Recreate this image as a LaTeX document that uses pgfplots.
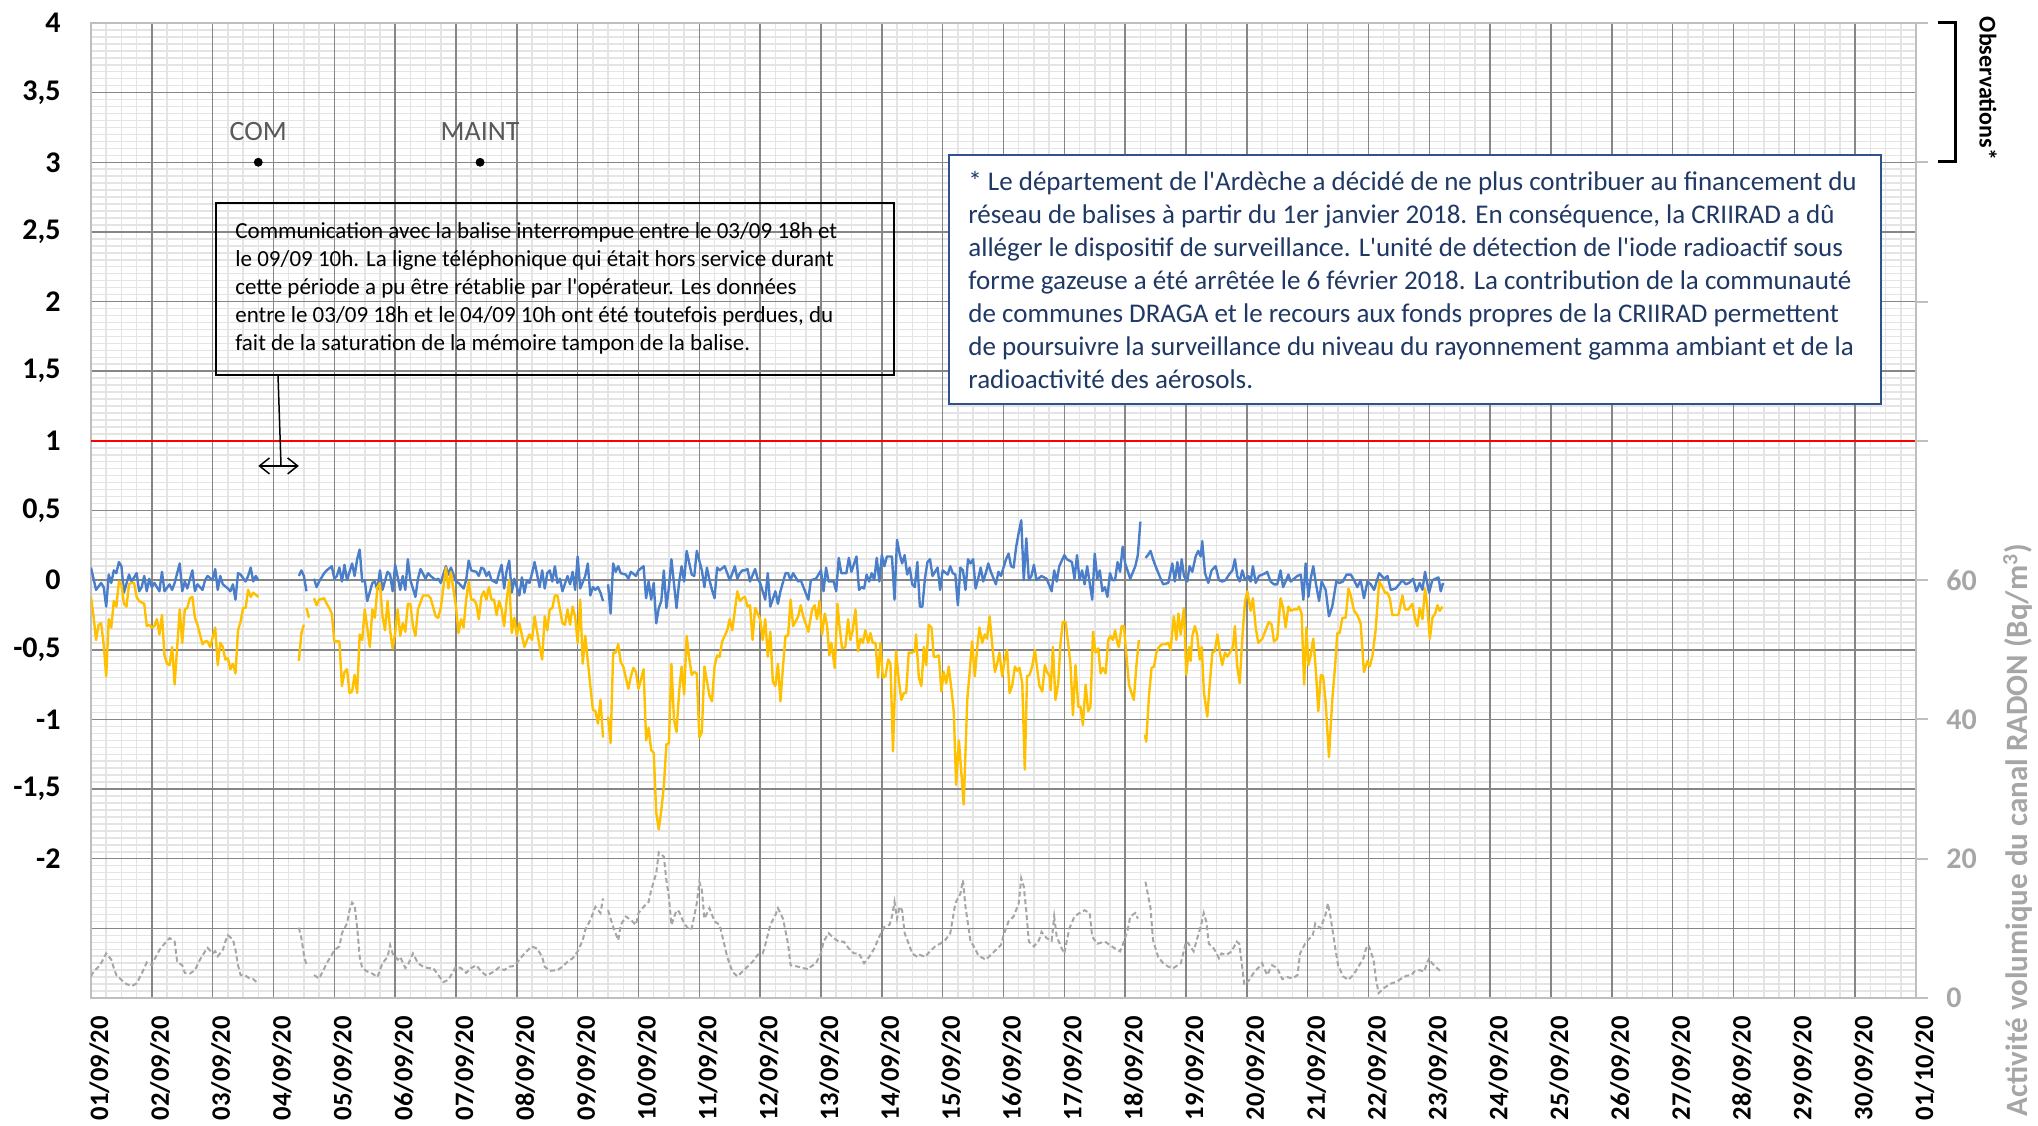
\documentclass[border=0pt]{standalone}
\usepackage{pgfplots}
\pgfplotsset{compat=1.18}
\usepackage{fontspec}
\setmainfont{Carlito}
\usetikzlibrary{arrows.meta}

\definecolor{blueS}{RGB}{74,126,200}
\definecolor{yellowS}{RGB}{255,192,0}
\definecolor{grayS}{RGB}{166,166,166}
\definecolor{majorgrid}{RGB}{134,134,134}
\definecolor{minorgrid}{RGB}{228,228,228}
\definecolor{frame}{RGB}{191,191,191}
\definecolor{navy}{RGB}{31,56,100}
\definecolor{boxblue}{RGB}{47,82,143}
\definecolor{comgray}{RGB}{89,89,89}

\pgfplotsset{
  chartbox/.style={
    scale only axis, width=912.5pt, height=487.5pt,
    xmin=0, xmax=720,
    unbounded coords=jump,
  },
}

% x in hours since 01/09/20 00h
\pgfplotstableread{
h v
0 0.09
2 -0.07
4 -0.02
5 -0.05
6 -0.19
7 0.04
8 -0.02
9 0.07
10 0.05
11 0.13
12 0.10
13 -0.09
15 0.04
16 -0.01
18 0.05
19 -0.08
20 -0.05
21 0.03
22 -0.08
23 0.01
24 -0.05
25 -0.02
27 -0.08
28 0.06
29 -0.08
31 -0.03
32 -0.07
33 -0.02
35 0.12
36 -0.08
37 -0.01
38 -0.06
40 0.07
41 -0.08
42 -0.03
44 -0.07
45 0.00
46 0.03
48 0.00
49 0.08
50 -0.07
51 0.03
52 -0.03
54 -0.06
55 -0.08
56 -0.03
57 -0.14
58 0.05
59 0.04
61 -0.01
62 0.03
63 0.09
64 -0.01
65 0.03
66 0.00
67 nan
82 0.03
83 0.07
84 0.03
85 -0.08
86 nan
88 0.01
89 -0.05
90 -0.01
92 0.05
93 0.07
95 0.10
96 0.01
97 0.03
98 0.09
99 -0.01
100 0.11
101 0.00
103 0.12
104 0.03
105 0.15
106 0.22
107 -0.01
108 0.00
109 -0.15
111 -0.02
112 -0.01
113 -0.07
114 0.07
115 -0.07
117 0.06
118 0.04
119 -0.08
120 0.11
122 -0.07
123 0.03
124 -0.07
125 0.15
126 0.00
128 -0.12
129 0.01
130 0.08
132 0.01
133 0.05
134 0.03
136 0.00
137 0.01
138 -0.02
140 0.10
141 0.04
142 0.09
144 -0.01
145 -0.02
147 -0.06
148 0.00
149 0.14
150 0.07
152 0.06
153 0.03
154 0.09
155 0.08
156 0.03
157 0.06
158 0.00
160 -0.02
161 0.05
162 0.11
163 -0.06
164 0.07
165 0.14
166 -0.09
167 0.01
168 -0.05
169 -0.11
170 0.02
171 -0.09
172 0.00
173 -0.02
174 0.05
175 0.13
177 -0.05
178 0.07
179 -0.06
180 0.05
181 0.07
182 -0.01
183 0.10
184 -0.02
185 0.01
186 -0.08
188 0.03
189 -0.03
190 0.06
191 -0.07
192 0.17
193 -0.06
195 0.03
196 0.12
197 -0.11
198 -0.05
199 -0.07
200 -0.05
201 -0.09
202 -0.15
203 nan
204 -0.03
205 -0.24
206 0.12
207 0.06
208 0.10
209 0.05
211 0.04
212 0.01
213 0.06
215 0.03
216 0.07
218 0.10
219 -0.13
220 -0.01
221 -0.14
222 -0.02
223 -0.31
224 -0.20
225 -0.15
226 0.07
227 -0.20
228 -0.05
229 0.15
231 -0.20
232 -0.02
233 0.10
234 -0.01
235 0.21
237 0.04
238 0.03
239 0.21
241 0.07
242 -0.05
243 0.09
244 0.00
245 -0.07
246 -0.13
247 0.09
248 0.07
250 0.10
251 0.05
252 0.00
254 0.10
255 0.01
256 0.05
257 0.07
258 0.07
259 0.08
260 -0.01
262 0.08
263 0.01
264 -0.02
266 -0.14
267 0.05
268 -0.19
270 -0.08
271 -0.17
272 -0.08
274 0.05
275 0.05
276 0.00
277 0.05
279 -0.01
280 0.00
283 -0.14
284 0.00
286 0.01
288 0.07
289 -0.08
290 0.09
291 -0.01
293 -0.01
294 -0.08
295 0.16
296 0.05
298 0.05
299 0.16
300 0.06
302 0.17
303 -0.07
304 -0.05
305 -0.06
306 0.04
307 -0.01
308 0.05
309 0.00
310 0.16
311 -0.01
312 0.18
313 0.10
314 0.17
316 0.17
317 -0.14
318 0.29
319 0.19
320 0.12
321 0.18
322 0.04
323 0.09
324 -0.03
325 -0.05
326 0.13
327 -0.19
328 -0.19
329 0.01
330 0.13
331 0.15
332 0.03
334 0.09
335 -0.07
336 0.07
338 0.04
339 0.10
340 0.05
341 0.04
342 -0.18
343 0.09
344 0.07
345 -0.07
346 0.15
347 0.12
348 0.15
349 -0.06
350 0.01
351 0.09
352 -0.01
353 0.05
354 0.12
355 0.06
357 -0.03
358 0.06
359 0.03
361 0.15
362 0.19
363 0.10
364 0.09
365 0.24
366 0.34
367 0.43
368 0.00
369 0.30
370 0.00
371 0.03
372 0.11
373 0.00
375 0.03
377 0.01
379 -0.08
380 0.07
381 -0.01
382 0.10
384 0.18
385 0.15
387 0.13
388 0.01
389 0.18
390 0.00
391 0.07
392 -0.03
393 0.10
395 -0.14
396 0.19
397 0.01
398 0.07
399 -0.08
400 -0.05
401 -0.12
402 0.05
403 0.00
404 0.00
405 0.13
406 0.06
407 0.24
408 0.12
410 0.01
412 0.10
413 0.18
414 0.42
415 nan
416 0.16
417 0.18
418 0.21
419 0.15
420 0.10
422 0.01
423 -0.03
425 -0.02
426.6 0.12
427.6 -0.01
428.6 0.13
429.5 0.01
430.3 0.15
431.2 0.03
432.5 -0.01
433.4 0.10
434.5 0.06
435.8 0.17
436.8 0.21
437.8 0.17
438.4 0.28
439.5 0.05
440.8 -0.02
442.1 0.07
443.7 0.10
445 0.00
446.3 -0.01
447.6 0.00
449 0.04
450.3 0.07
451.3 0.15
452.2 0.03
453.2 -0.01
454.2 0.07
455.3 0.00
456.6 0.03
457.5 -0.01
458.4 0.10
459.5 -0.02
460.8 0.03
462.1 0.04
463.4 0.05
464 0.06
465.4 -0.01
466.7 -0.03
468 -0.03
469.3 0.07
470.3 -0.05
471.3 -0.01
472.4 0.04
473.3 -0.01
474.6 0.01
475.9 0.03
477.3 0.04
478.3 -0.14
479.2 0.12
480.3 -0.12
481.2 0.01
482.2 0.10
483.2 -0.02
484.5 -0.15
485.5 -0.01
487.1 -0.07
488.4 -0.26
489.7 -0.19
491.3 -0.01
492.6 -0.02
493.9 -0.01
495.3 0.04
497 0.04
498.3 0.00
499.6 -0.05
500.9 0.00
502.2 -0.13
503.6 -0.01
504.9 -0.03
506.2 -0.07
508.2 0.05
510.2 0.01
511.5 0.03
512.8 -0.07
514.7 -0.06
516.1 -0.03
517.4 0.00
518.7 -0.03
520 -0.02
521.6 0.01
522.9 -0.08
524.2 -0.02
525.3 -0.07
526.3 0.06
527.9 -0.09
529.2 0.00
530.5 0.01
531.6 0.02
532.5 -0.08
533.4 -0.02
}\blueTab

\pgfplotstableread{
h v
0 -0.12
1 -0.26
2 -0.43
3 -0.32
4 -0.31
5 -0.46
6 -0.69
7 -0.28
8 -0.34
9 -0.15
10 -0.19
11 -0.01
12 -0.03
13 -0.17
14 -0.19
15 -0.03
16 -0.02
17 -0.02
18 -0.12
19 -0.15
21 -0.17
22 -0.33
23 -0.32
24 -0.34
25 -0.33
26 -0.28
27 -0.39
28 -0.25
29 -0.54
30 -0.60
31 -0.61
32 -0.48
33 -0.75
35 -0.21
36 -0.45
37 -0.21
38 -0.20
39 -0.13
40 -0.12
41 -0.27
42 -0.32
44 -0.46
45 -0.44
46 -0.44
47 -0.48
49 -0.34
50 -0.61
51 -0.45
52 -0.48
53 -0.57
54 -0.56
55 -0.64
56 -0.60
57 -0.67
58 -0.36
59 -0.30
60 -0.20
61 -0.20
62 -0.07
63 -0.12
64 -0.09
66 -0.12
67 nan
82 -0.58
83 -0.38
84 -0.32
84.5 nan
85 -0.20
86 -0.27
87 nan
88 -0.13
89 -0.18
90 -0.14
92 -0.13
93 -0.17
94 -0.20
95 -0.24
96 -0.44
98 -0.44
99 -0.76
100 -0.66
101 -0.64
102 -0.81
103 -0.80
104 -0.68
105 -0.81
106 -0.39
107 -0.43
108 -0.21
110 -0.48
111 -0.21
112 -0.27
113 -0.05
114 -0.02
115 -0.26
116 -0.36
117 -0.15
118 -0.36
119 -0.49
120 -0.38
121 -0.21
122 -0.40
123 -0.31
124 -0.37
125 -0.17
126 -0.17
127 -0.33
128 -0.40
129 -0.21
131 -0.11
132 -0.11
133 -0.11
134 -0.13
136 -0.26
137 -0.27
138 -0.20
140 0.09
141 -0.06
142 0.06
143 -0.07
144 -0.19
145 -0.38
146 -0.28
147 -0.34
148 -0.14
149 -0.01
150 -0.14
151 -0.14
152 -0.17
153 -0.28
154 -0.12
155 -0.08
156 -0.14
157 -0.05
158 -0.14
159 -0.14
160 -0.25
161 -0.15
162 -0.21
163 -0.33
164 -0.14
165 0.00
166 -0.38
167 -0.27
168 -0.40
169 -0.31
171 -0.48
172 -0.43
173 -0.39
174 -0.43
175 -0.26
177 -0.48
178 -0.57
179 -0.26
180 -0.36
181 -0.21
182 -0.20
183 -0.11
184 -0.11
186 -0.31
187 -0.32
188 -0.21
189 -0.32
190 -0.19
191 -0.26
192 -0.45
193 -0.14
194 -0.60
195 -0.40
197 -0.76
198 -0.93
199 -0.94
200 -1.03
201 -0.86
202 -1.13
203 nan
204 -0.98
205 -1.17
206 -0.52
207 -0.52
208 -0.46
209 -0.59
210 -0.62
212 -0.78
213 -0.69
214 -0.63
215 -0.66
216 -0.78
218 -0.64
219 -1.15
220 -1.06
221 -1.22
222 -1.24
223 -1.67
224 -1.79
225 -1.65
226 -1.48
227 -1.18
228 -1.17
229 -0.60
230 -1.00
231 -1.09
232 -0.81
233 -0.62
234 -0.82
235 -0.40
236 -0.56
237 -0.68
238 -0.66
239 -0.67
240 -1.13
241 -1.09
242 -0.62
244 -0.83
245 -0.87
246 -0.62
247 -0.54
248 -0.55
249 -0.44
250 -0.40
251 -0.36
252 -0.28
253 -0.36
255 -0.08
256 -0.15
257 -0.13
258 -0.12
259 -0.19
260 -0.18
261 -0.43
262 -0.20
264 -0.28
265 -0.43
266 -0.28
267 -0.55
268 -0.37
269 -0.73
270 -0.76
271 -0.60
272 -0.87
273 -0.62
274 -0.40
275 -0.40
276 -0.14
277 -0.33
279 -0.26
280 -0.18
281 -0.26
283 -0.37
284.5 -0.21
285.5 -0.18
286.4 -0.28
287.4 -0.15
288.4 -0.39
289.5 -0.24
290.4 -0.33
291.3 -0.54
292.1 -0.45
293.4 -0.63
294.5 -0.17
295.3 -0.33
296.3 -0.49
297.6 -0.48
298.7 -0.28
299.6 -0.43
300.5 -0.36
301.6 -0.21
302.6 -0.51
303.6 -0.42
304.5 -0.45
305.5 -0.36
306.6 -0.45
307.5 -0.38
308.4 -0.45
309.5 -0.45
310.5 -0.70
311.4 -0.45
312.4 -0.70
313.4 -0.69
314.5 -0.57
315.4 -0.60
316.4 -1.23
317.6 -0.51
318.7 -0.72
319.7 -0.86
320.7 -0.81
321.6 -0.81
322.6 -0.52
324 -0.52
325 -0.51
325.5 -0.39
326.6 -0.70
327.6 -0.76
328.6 -0.48
329.5 -0.61
330.5 -0.32
331.6 -0.34
332.5 -0.55
333.4 -0.55
334.5 -0.54
335.5 -0.80
336.4 -0.66
337.4 -0.74
338.4 -0.62
339.5 -0.79
340.4 -0.95
341.3 -1.47
342.4 -1.15
343.4 -1.39
344.3 -1.61
345.7 -0.86
346.6 -0.67
347.6 -0.44
348.7 -0.69
349.6 -0.49
350.5 -0.34
351.6 -0.45
352.6 -0.39
353.5 -0.42
354.5 -0.26
355.5 -0.45
356.6 -0.66
357.5 -0.60
358.4 -0.52
359.5 -0.69
360.5 -0.57
361.4 -0.50
362.4 -0.81
363.4 -0.76
364.5 -0.62
365.4 -0.65
366.3 -0.63
367.4 -0.74
368.4 -1.36
369.3 -0.69
370.3 -0.68
371.3 -0.62
372.4 -0.50
373.3 -0.64
374.2 -0.76
375.3 -0.80
376.3 -0.61
377.2 -0.66
378.2 -0.69
378.6 -0.79
379.5 -0.48
380.5 -0.86
381.6 -0.74
382.5 -0.45
383.4 -0.30
384.5 -0.30
385.8 -0.50
386.4 -0.60
387.4 -0.97
388.4 -0.61
389.5 -0.91
390.4 -0.91
391.3 -1.04
392.4 -0.75
393.4 -0.94
394.3 -0.91
395.3 -0.37
396.3 -0.52
397.4 -0.49
398.3 -0.67
399.2 -0.63
400.3 -0.67
401.3 -0.43
402.2 -0.40
403.2 -0.43
404.0 -0.36
404.9 -0.45
405.5 -0.48
406.6 -0.33
407.5 -0.33
408.4 -0.52
409.5 -0.75
410.5 -0.81
411.4 -0.86
412.4 -0.62
413.4 -0.43
414.5 nan
415.8 -1.11
416.3 -1.16
417.4 -0.83
418.4 -0.63
419.4 -0.62
420.3 -0.52
421.3 -0.48
422.6 -0.46
423.9 -0.46
425 -0.45
425.9 -0.50
427.2 -0.26
428.2 -0.43
429 -0.24
429.9 -0.39
431.2 -0.20
432.1 -0.68
433.2 -0.48
433.8 -0.58
434.5 -0.40
435.5 -0.33
436.4 -0.39
437.4 -0.57
438.2 -0.48
439.1 -0.81
440.4 -0.98
441.4 -0.74
442.4 -0.52
443.4 -0.51
444.4 -0.39
445.3 -0.51
446.3 -0.61
447.4 -0.52
448.3 -0.55
449.6 -0.51
450.5 -0.48
451.3 -0.33
452.2 -0.62
453.2 -0.74
454.2 -0.42
455.3 -0.15
456.2 -0.08
457.5 -0.22
458.4 -0.13
459.5 -0.34
460.5 -0.45
462.1 -0.42
463.4 -0.36
464.7 -0.30
465.8 -0.32
466.7 -0.44
468 -0.42
469.3 -0.13
470.3 -0.20
471.3 -0.34
472.4 -0.19
473.3 -0.22
474.6 -0.21
475.9 -0.21
476.6 -0.19
477.6 -0.24
478.6 -0.75
479.5 -0.34
480.3 -0.61
481.2 -0.54
482.2 -0.42
483.2 -0.64
484.2 -0.94
485.2 -0.68
486.1 -0.69
487.1 -0.88
488.4 -1.27
489.7 -0.86
490.8 -0.62
491.7 -0.38
492.6 -0.38
493.7 -0.27
495 -0.27
496.1 -0.06
497 -0.11
498.3 -0.22
499.6 -0.25
500.9 -0.31
502.2 -0.66
503.6 -0.58
504.5 -0.62
505.5 -0.55
506.8 -0.36
508.2 -0.01
509.5 -0.05
510.5 -0.09
511.4 -0.09
512.4 -0.13
513.4 -0.25
514.7 -0.25
515.8 -0.25
517.4 -0.11
518.4 -0.21
519.7 -0.21
521.3 -0.17
522.4 -0.28
523.3 -0.33
524.2 -0.20
525.3 -0.28
526.3 -0.06
527.2 -0.19
528.2 -0.42
529.2 -0.27
530.3 -0.24
531.2 -0.18
532.1 -0.22
533.2 -0.19
}\yellowTab

\pgfplotstableread{
h v
0 3.1
1 3.8
3 4.5
4 5.0
6 6.4
8 5.5
9 4.3
10 3.3
12 2.6
14 2.0
16 1.7
18 2.1
20 3.5
22 5.1
24 4.7
25 5.5
27 6.9
29 7.8
31 8.6
33 8.1
34 5.2
36 4.7
37 3.6
39 3.5
41 4.0
43 5.5
45 6.7
46 7.2
48 6.4
49 6.7
50 6.0
52 6.9
53 8.1
54 9.0
56 8.4
57 6.9
58 4.7
59 3.3
61 3.2
63 2.7
64 2.7
66 2.1
67 nan
82 10.1
83 8.6
84 6.2
85 4.7
86 nan
88 3.3
90 2.8
91 3.5
93 5.0
95 6.2
96 6.9
98 7.4
99 9.3
101 10.7
102 12.6
103 13.7
104 13.3
105 10.2
106 5.9
107 4.3
109 3.8
111 3.5
113 3.0
115 5.0
117 5.9
118 7.6
119 6.4
121 5.5
122 5.9
124 4.3
125 4.7
127 6.4
129 5.0
131 4.5
133 4.3
135 4.3
137 3.3
139 2.3
141 2.6
144 4.5
146 4.3
148 3.6
150 4.3
152 4.7
154 3.8
156 3.2
159 3.8
161 4.4
163 4.0
165 4.5
167 4.6
169 5.5
171 6.4
173 7.1
174 7.4
176 7.1
178 5.9
179 4.5
181 3.9
184 4.0
186 4.5
188 5.2
190 5.7
192 6.7
194 8.3
195 9.8
197 11.2
199 13.1
201 12.2
202 14.3
203 nan
204 12.6
206 10.2
208 8.3
209 10.5
211 11.7
213 11.2
215 10.5
216 12.2
218 13.1
220 13.8
221 15.5
223 17.9
224 20.9
226 20.3
227 16.9
228 14.5
229 10.5
231 12.6
232 12.4
234 10.7
236 9.8
237 10.0
239 13.6
240 16.7
241 15.5
242 11.4
244 12.9
246 11.0
248 10.5
249 9.0
251 5.9
253 3.8
255 3.1
257 3.8
259 4.5
261 5.2
263 6.2
265 6.4
266 7.6
268 10.5
270 11.9
271 12.9
273 11.4
275 7.8
276 4.7
279 4.5
281 4.3
283 4.1
284 4.5
286 5.0
288 6.4
289 8.1
291 9.3
293 8.6
295 8.1
297 8.1
299 7.1
301 6.4
303 6.4
305 5.0
307 5.9
309 7.1
311 8.8
313 10.2
315 10.5
316 11.7
317 13.8
318 11.4
319 13.1
320 12.6
321 9.3
323 7.4
324 6.4
326 5.9
327 6.2
329 5.9
331 6.7
333 7.4
335 7.8
337 8.3
339 9.3
341 13.6
343 15.0
344 16.9
345 13.1
347 8.1
348 7.6
350 6.2
351 5.9
353 5.5
355 6.2
357 6.9
359 7.6
360 9.0
362 11.0
364 11.7
366 13.6
367 17.2
368 16.0
369 12.4
370 8.1
372 7.4
374 8.3
375 9.5
377 8.6
379 8.2
380 11.7
381 8.8
383 7.1
384 6.4
385 8.3
386 10.0
388 11.7
390 12.2
392 12.6
394 12.2
395 8.8
397 7.8
400 8.1
402 7.6
404 7.1
406 6.7
407 7.6
409 9.8
410 11.7
412 12.2
413 11.4
414.5 nan
416 16.7
418 12.9
419 8.3
421 5.9
423 5.0
425 4.5
427 4.3
430 5.0
432 8.1
433 7.8
435 6.7
437 9.3
438 10.5
439 12.2
440 11.0
441 7.8
443 7.1
445 5.7
446 6.4
448 6.2
450 6.7
452 8.1
453 7.8
454 5.0
455 1.9
457 2.6
459 3.8
461 4.5
462 5.0
464 3.3
466 4.7
468 4.3
470 2.7
472 3.0
474 2.8
476 3.3
477 6.4
479 7.8
480 8.3
482 9.0
483 10.7
485 10.0
487 11.9
488 13.6
489 11.7
491 6.9
492 4.7
494 3.1
496 2.6
498 3.3
500 4.5
502 5.7
503 7.1
504 7.6
506 5.5
507 2.6
508 0.7
510 1.4
512 1.9
513 2.1
515 2.3
517 2.8
519 3.2
521 3.3
522 3.8
524 4.0
526 3.8
527 5.0
528 5.7
529 5.0
531 4.3
532 4.0
533 4.3
}\radonTab

\begin{document}
\begin{tikzpicture}
% light minor grid, drawn first so that the darker major lines sit on top of it
\begin{axis}[
  chartbox, ymin=-3, ymax=4,
  xtick={0,24,...,720}, minor x tick num=3,
  ytick={-3,-2.5,...,4}, minor y tick num=9,
  xticklabels={}, yticklabels={},
  grid=minor,
  minor grid style={draw=minorgrid, line width=0.75pt},
  major tick length=0pt, minor tick length=0pt,
  axis line style={draw=none},
]
\end{axis}

\begin{axis}[
  chartbox, ymin=-3, ymax=4,
  xtick={0,24,...,720},
  xticklabels={01/09/20,02/09/20,03/09/20,04/09/20,05/09/20,06/09/20,07/09/20,08/09/20,09/09/20,10/09/20,11/09/20,12/09/20,13/09/20,14/09/20,15/09/20,16/09/20,17/09/20,18/09/20,19/09/20,20/09/20,21/09/20,22/09/20,23/09/20,24/09/20,25/09/20,26/09/20,27/09/20,28/09/20,29/09/20,30/09/20,01/10/20},
  ytick={-3,-2.5,...,4},
  yticklabel={\ifdim\tick pt<-2.25pt\relax\else\pgfmathprintnumber{\tick}\fi},
  /pgf/number format/.cd, use comma, fixed, precision=1, assume math mode=true,
  /pgfplots/.cd,
  grid=major,
  major grid style={draw=majorgrid, line width=0.75pt},
  major tick length=0pt,
  axis line style={draw=frame, line width=1pt},
  xticklabel shift=9pt,
  x tick label style={rotate=90, anchor=east, inner sep=0pt, yshift=-4.2pt,
    font=\bfseries\fontsize{13.3}{16}\selectfont},
  y tick label style={anchor=east, inner sep=0pt, xshift=-15pt,
    font=\bfseries\fontsize{15}{18}\selectfont},
]
\addplot[red, line width=1.25pt] coordinates {(0,1) (720,1)};
\addplot[blueS, line width=1.2pt, line join=round] table[x=h, y=v] {\blueTab};
\addplot[yellowS, line width=1.2pt, line join=round] table[x=h, y=v] {\yellowTab};
\addplot[only marks, mark=*, mark size=2pt, black] coordinates {(66,3) (153.5,3)};
\node[anchor=base, yshift=11pt, text=comgray, font=\fontsize{14}{17}\selectfont] at (axis cs:66,3) {COM};
\node[anchor=base, yshift=11pt, text=comgray, font=\fontsize{14}{17}\selectfont] at (axis cs:153.5,3) {MAINT};
\draw[line width=0.75pt, {Straight Barb[length=5pt,width=8pt]}-{Straight Barb[length=5pt,width=8pt]}]
  (axis cs:66,0.82) -- (axis cs:82,0.82);
\end{axis}

\begin{axis}[
  chartbox, ymin=0, ymax=140,
  axis y line*=right, axis x line=none,
  ytick={0,20,...,140},
  yticklabels={0,20,40,60,{},{},{},{}},
  tick align=outside, major tick length=6pt,
  tick style={draw=frame, line width=1pt},
  axis line style={draw=frame, line width=1pt},
  y tick label style={anchor=west, inner sep=0pt, xshift=9pt, text=grayS,
    font=\bfseries\fontsize{15}{18}\selectfont},
  /pgf/number format/assume math mode=true,
]
\addplot[grayS, line width=1pt, dash pattern=on 2.5pt off 1.5pt] table[x=h, y=v] {\radonTab};
\end{axis}

% right-hand axis title
\node[rotate=90, text=grayS, font=\bfseries\fontsize{15.5}{18}\selectfont] at (963.5pt,84pt)
  {Activité volumique du canal RADON (Bq/m\textsuperscript{3})};

% observations bracket
\draw[line width=1.5pt] (923.5pt,487.5pt) -- (932pt,487.5pt) -- (932pt,418pt) -- (923.5pt,418pt);
\node[rotate=-90, font=\bfseries\fontsize{12}{14}\selectfont] at (948.5pt,454.75pt) {Observations*};

% communication note
\draw[black, line width=0.75pt] (62.5pt,311.5pt) rectangle (401.5pt,397.5pt);
\node[anchor=north west, inner sep=0pt, align=left, font=\fontsize{11.5}{14}\selectfont] at (72pt,387.7pt)
  {Communication avec la balise interrompue entre le 03/09 18h et\\
   le 09/09 10h. La ligne téléphonique qui était hors service durant\\
   cette période a pu être rétablie par l\textquotesingle opérateur. Les données\\
   entre le 03/09 18h et le 04/09 10h ont été toutefois perdues, du\\
   fait de la saturation de la mémoire tampon de la balise.};
\draw[black, line width=0.75pt] (93.5pt,311.5pt) -- (95pt,266.5pt);

% footnote box
\draw[boxblue, fill=white, line width=1pt] (429pt,297pt) rectangle (895pt,421.5pt);
\node[anchor=north west, inner sep=0pt, align=left, text=navy, font=\fontsize{13.5}{16.5}\selectfont] at (438.5pt,413.4pt)
  {* Le département de l\textquotesingle Ardèche a décidé de ne plus contribuer au financement du\\
   réseau de balises à partir du 1er janvier 2018. En conséquence, la CRIIRAD a dû\\
   alléger le dispositif de surveillance. L\textquotesingle unité de détection de l\textquotesingle iode radioactif sous\\
   forme gazeuse a été arrêtée le 6 février 2018. La contribution de la communauté\\
   de communes DRAGA et le recours aux fonds propres de la CRIIRAD permettent\\
   de poursuivre la surveillance du niveau du rayonnement gamma ambiant et de la\\
   radioactivité des aérosols.};

\pgfresetboundingbox
\path (-45.5pt,-63.5pt) rectangle (973.5pt,499pt);
\end{tikzpicture}
\end{document}
